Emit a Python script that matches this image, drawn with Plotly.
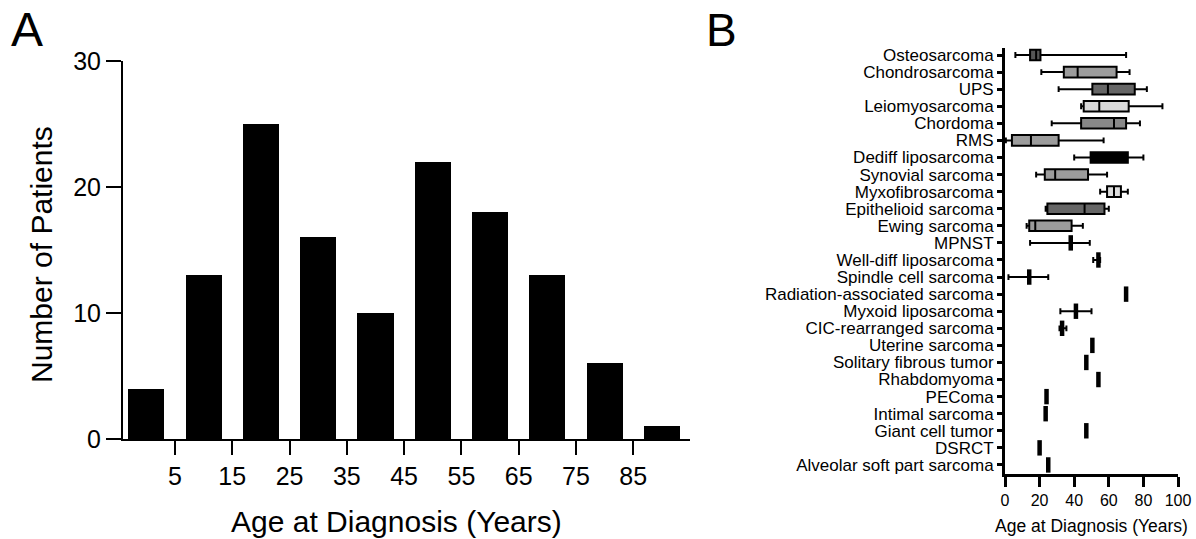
import plotly.graph_objects as go

W, H = 1196, 539
FONT = "Liberation Sans, Arial, Helvetica, sans-serif"

# ---------------- Panel A data ----------------
age_bins = [0, 10, 20, 30, 40, 50, 60, 70, 80, 90]
patients = [4, 13, 25, 16, 10, 22, 18, 13, 6, 1]
age_ticks = [5, 15, 25, 35, 45, 55, 65, 75, 85]
count_ticks = [0, 10, 20, 30]

# ---------------- Panel B data ----------------
subtypes = [
    "Osteosarcoma", "Chondrosarcoma", "UPS", "Leiomyosarcoma", "Chordoma", "RMS",
    "Dediff liposarcoma", "Synovial sarcoma", "Myxofibrosarcoma", "Epithelioid sarcoma",
    "Ewing sarcoma", "MPNST", "Well-diff liposarcoma", "Spindle cell sarcoma",
    "Radiation-associated sarcoma", "Myxoid liposarcoma", "CIC-rearranged sarcoma",
    "Uterine sarcoma", "Solitary fibrous tumor", "Rhabdomyoma", "PEComa",
    "Intimal sarcoma", "Giant cell tumor", "DSRCT", "Alveolar soft part sarcoma",
]
age_min = [6, 21, 31, 44, 27, 0.5, 40, 18, 55, 23.5, 12.5, 14.5, 51, 2, 70, 32, 31.5, 50.5, 47, 54, 24, 23.5, 47, 20, 25]
age_q1 = [14.5, 34, 50.5, 45.5, 44, 4, 49.5, 23, 59, 24.5, 14, 38, 54, 14, 70, 41, 33, 50.5, 47, 54, 24, 23.5, 47, 20, 25]
age_median = [18, 42, 59.5, 54.5, 63, 15, 60, 29, 63, 46, 17.5, 38, 54, 14, 70, 41, 33, 50.5, 47, 54, 24, 23.5, 47, 20, 25]
age_q3 = [20.5, 64.5, 75, 71.5, 70, 31, 71, 48, 67, 57.5, 38.5, 38, 54, 14, 70, 41, 33, 50.5, 47, 54, 24, 23.5, 47, 20, 25]
age_max = [70, 72, 82, 91, 78, 57, 80, 59, 71, 60, 45, 49, 55, 25, 70, 50, 35.5, 50.5, 47, 54, 24, 23.5, 47, 20, 25]
b_ticks = [0, 20, 40, 60, 80, 100]

# styles (box fill shades)
box_fill = ["#555555", "#9c9c9c", "#666666", "#d9d9d9", "#888888", "#9c9c9c", "#000000",
            "#9c9c9c", "#dcdcdc", "#666666", "#9c9c9c"] + ["#ffffff"] * 14

fig = go.Figure()

# Panel A bars
fig.add_trace(go.Bar(
    x=age_bins, y=patients, width=6.3, marker=dict(color="black", line=dict(width=0)),
    xaxis="x", yaxis="y", showlegend=False, hoverinfo="skip",
))

# Panel B boxes
for i, name in enumerate(subtypes):
    fig.add_trace(go.Box(
        y=[name], q1=[age_q1[i]], median=[age_median[i]], q3=[age_q3[i]],
        lowerfence=[age_min[i]], upperfence=[age_max[i]], orientation="h",
        fillcolor=box_fill[i], line=dict(color="black", width=2), width=0.62,
        whiskerwidth=0.55, boxpoints=False, xaxis="x2", yaxis="y2",
        showlegend=False, hoverinfo="skip",
    ))

# thick median marks for collapsed boxes
mx, my = [], []
for i, name in enumerate(subtypes):
    if age_q1[i] == age_q3[i]:
        mx.append(age_median[i])
        my.append(name)
fig.add_trace(go.Scatter(
    x=mx, y=my, mode="markers", xaxis="x2", yaxis="y2",
    marker=dict(symbol="line-ns-open", size=11, color="black", line=dict(width=4.5, color="black")),
    showlegend=False, hoverinfo="skip",
))

fig.update_layout(
    width=W, height=H, margin=dict(l=0, r=0, t=0, b=0, pad=0, autoexpand=False),
    paper_bgcolor="white", plot_bgcolor="white",
    font=dict(family=FONT, color="black"),
    bargap=0, boxmode="overlay",
    xaxis=dict(
        domain=[123 / W, 690 / W], range=[-4.07, 94.9], anchor="y", automargin=False,
        tickmode="array", tickvals=age_ticks, ticks="outside", ticklen=14, tickwidth=2,
        tickcolor="black", showline=True, linewidth=2, linecolor="black",
        showgrid=False, zeroline=False, tickfont=dict(size=25, family=FONT),
    ),
    yaxis=dict(
        domain=[1 - 439 / H, 1 - 61 / H], range=[0, 30], anchor="x", automargin=False,
        tickmode="array", tickvals=count_ticks, ticks="outside", ticklen=15, tickwidth=2,
        tickcolor="black", showline=True, linewidth=2, linecolor="black",
        showgrid=False, zeroline=False, tickfont=dict(size=25, family=FONT),
    ),
    xaxis2=dict(
        domain=[1005 / W, 1178 / W], range=[0, 100], anchor="y2", automargin=False,
        tickmode="array", tickvals=b_ticks, ticks="outside", ticklen=10, tickwidth=3,
        tickcolor="black", showline=True, linewidth=3, linecolor="black",
        showgrid=False, zeroline=False, tickfont=dict(size=16, family=FONT),
    ),
    yaxis2=dict(
        domain=[1 - 474 / H, 1 - 48 / H], type="category", categoryorder="array",
        categoryarray=subtypes, range=[24.53, -0.41], anchor="x2", automargin=False,
        tickmode="array", tickvals=subtypes, ticktext=subtypes,
        ticks="outside", ticklen=5, tickwidth=3, tickcolor="black",
        showline=True, linewidth=3, linecolor="black",
        showgrid=False, zeroline=False, tickfont=dict(size=17, family=FONT),
    ),
    annotations=[
        dict(text="A", x=27 / W, y=1 - 30 / H, xref="paper", yref="paper",
             xanchor="center", yanchor="middle", showarrow=False, font=dict(size=48)),
        dict(text="B", x=721 / W, y=1 - 30 / H, xref="paper", yref="paper",
             xanchor="center", yanchor="middle", showarrow=False, font=dict(size=46)),
        dict(text="Age at Diagnosis (Years)", x=396 / W, y=1 - 521 / H, xref="paper", yref="paper",
             xanchor="center", yanchor="middle", showarrow=False, font=dict(size=30)),
        dict(text="Number of Patients", x=42 / W, y=1 - 255 / H, xref="paper", yref="paper",
             xanchor="center", yanchor="middle", showarrow=False, textangle=-90, font=dict(size=30)),
        dict(text="Age at Diagnosis (Years)", x=1091 / W, y=1 - 526 / H, xref="paper", yref="paper",
             xanchor="center", yanchor="middle", showarrow=False, font=dict(size=17.5)),
    ],
)

fig.write_html("out.html")
